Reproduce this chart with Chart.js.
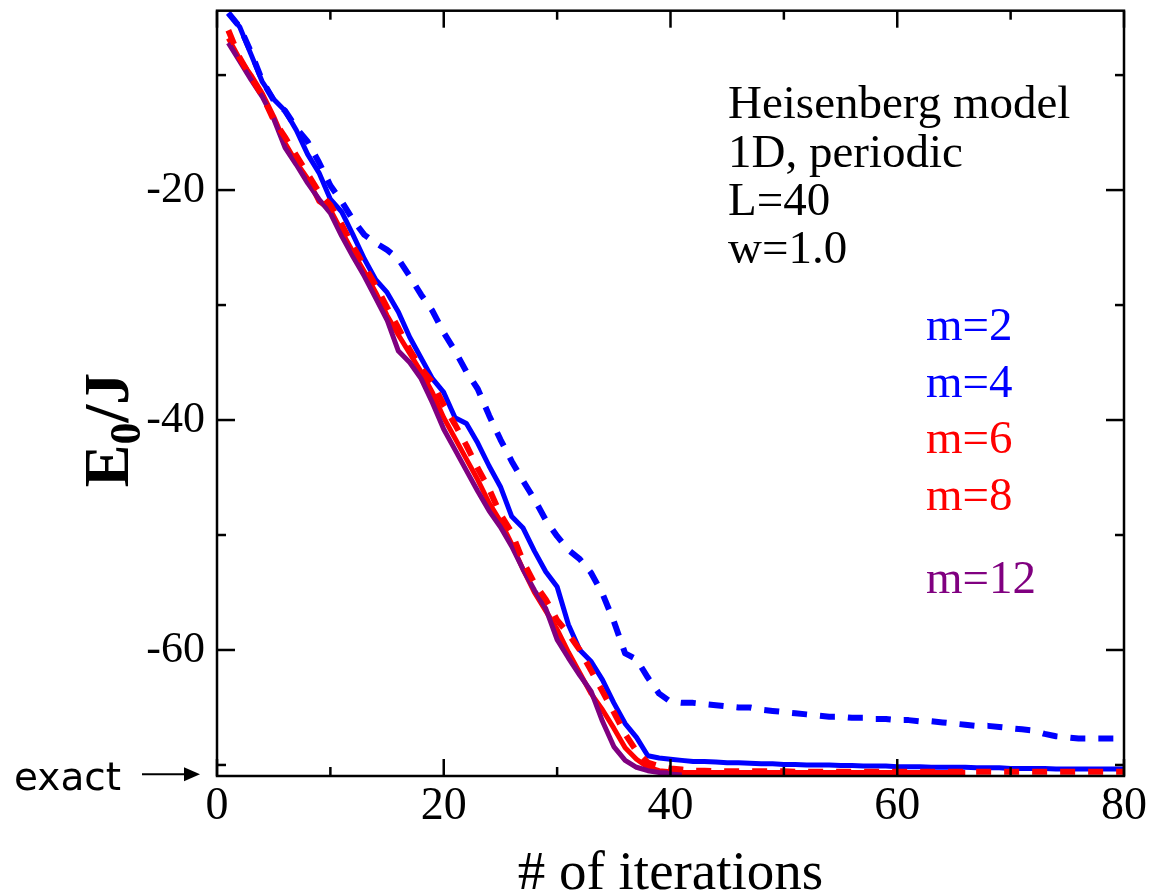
<!DOCTYPE html>
<html>
<head>
<meta charset="utf-8">
<script src="https://cdn.jsdelivr.net/npm/chart.js@4.4.0/dist/chart.umd.min.js"></script>
<style>
html,body{margin:0;padding:0;background:#fff;}
#c{display:block;}
</style>
</head>
<body>
<canvas id="c" width="1153" height="895"></canvas>
<script>
const iterations = [1,2,3,4,5,6,7,8,9,10,11,12,13,14,15,16,17,18,19,20,21,22,23,24,25,26,27,28,29,30,31,32,33,34,35,36,37,38,39,40,41,42,43,44,45,46,47,48,49,50,51,52,53,54,55,56,57,58,59,60,61,62,63,64,65,66,67,68,69,70,71,72,73,74,75,76,77,78,79,80];

const m2 = [-4.6,-5.8,-8.0,-10.5,-12.2,-13.1,-14.6,-15.8,-17.6,-19.6,
 -21.0,-22.6,-23.9,-24.6,-25.2,-26.0,-27.5,-29.1,-30.5,-32.4,
 -34.0,-35.8,-37.3,-39.6,-41.7,-43.6,-45.3,-46.9,-48.7,-50.1,
 -51.3,-52.1,-53.3,-55.1,-57.5,-60.3,-60.8,-62.4,-63.8,-64.5,
 -64.6,-64.6,-64.7,-64.8,-64.9,-65.0,-65.0,-65.2,-65.3,-65.4,
 -65.5,-65.6,-65.7,-65.8,-65.8,-65.9,-65.9,-66.0,-66.0,-66.1,
 -66.1,-66.2,-66.2,-66.3,-66.4,-66.5,-66.6,-66.6,-66.7,-66.8,
 -66.9,-67.0,-67.3,-67.5,-67.6,-67.7,-67.7,-67.7,-67.7,-67.7];

const m4 = [-4.6,-5.8,-8.2,-10.6,-12.1,-13.1,-14.8,-16.9,-18.5,-20.8,
 -21.9,-23.9,-26.0,-27.8,-28.9,-30.6,-32.8,-34.6,-36.4,-37.6,
 -39.8,-40.3,-42.0,-44.0,-45.8,-48.4,-49.4,-51.4,-53.2,-54.5,
 -57.8,-60.0,-61.0,-62.6,-64.6,-66.4,-67.6,-69.2,-69.4,-69.5,
 -69.6,-69.7,-69.7,-69.75,-69.8,-69.8,-69.85,-69.9,-69.9,-69.95,
 -69.95,-70.0,-70.0,-70.0,-70.05,-70.05,-70.1,-70.1,-70.1,-70.15,
 -70.15,-70.15,-70.2,-70.2,-70.2,-70.2,-70.25,-70.25,-70.25,-70.3,
 -70.3,-70.3,-70.3,-70.35,-70.35,-70.35,-70.35,-70.35,-70.35,-70.35];

const m6 = [-6.8,-8.6,-10.0,-11.6,-13.6,-15.9,-17.6,-19.0,-21.0,-21.7,
 -23.6,-25.4,-27.1,-28.9,-30.9,-32.6,-34.2,-35.8,-37.6,-39.8,
 -41.6,-43.4,-45.2,-47.2,-48.8,-50.8,-53.0,-55.0,-56.6,-58.2,
 -60.2,-62.0,-63.8,-65.2,-66.8,-68.5,-69.5,-70.2,-70.5,-70.6,
 -70.65,-70.65,-70.65,-70.65,-70.65,-70.65,-70.65,-70.65,-70.65,-70.65,
 -70.65,-70.65,-70.65,-70.65,-70.65,-70.65,-70.65,-70.65,-70.65,-70.65,
 -70.65,-70.65,-70.65,-70.65,-70.65,-70.65];

const m8 = [-6.1,-8.5,-10.2,-11.8,-13.9,-15.4,-17.0,-18.6,-20.2,-21.3,
 -23.0,-24.9,-26.6,-28.3,-30.2,-32.0,-33.9,-35.5,-36.7,-38.7,
 -40.4,-42.2,-44.2,-46.0,-48.2,-49.8,-52.3,-54.2,-55.6,-57.4,
 -58.6,-60.0,-61.8,-63.6,-65.4,-67.3,-68.8,-69.8,-70.1,-70.3,
 -70.4,-70.5,-70.5,-70.55,-70.55,-70.55,-70.55,-70.55,-70.55,-70.55,
 -70.6,-70.6,-70.6,-70.6,-70.6,-70.6,-70.6,-70.6,-70.6,-70.6,
 -70.6,-70.6,-70.6,-70.6,-70.6,-70.6,-70.6,-70.6,-70.6,-70.6,
 -70.6,-70.6,-70.6,-70.6,-70.6,-70.6,-70.6,-70.6,-70.6,-70.6];

const m12 = [-7.2,-8.8,-10.4,-11.9,-13.8,-16.3,-17.8,-19.4,-20.8,-22.0,
 -24.0,-25.8,-27.5,-29.4,-31.3,-34.0,-35.0,-36.4,-38.5,-40.8,
 -42.6,-44.4,-46.2,-47.9,-49.3,-51.0,-53.0,-54.8,-56.4,-59.1,
 -60.7,-62.2,-63.6,-66.2,-68.4,-69.6,-70.2,-70.5,-70.65,-70.7,
 -70.7];

const xTicks = [0, 20, 40, 60, 80];
const yTicks = [-20, -40, -60];
const xMinor = [10, 30, 50, 70];
const yMinor = [-10, -30, -50, -70];
const exactEnergy = -70.8;

const infoLines = ["Heisenberg model", "1D, periodic", "L=40", "w=1.0"];
const seriesLabels = ["m=2", "m=4", "m=6", "m=8", "m=12"];

const BLUE = "#0000ff", RED = "#ff0000", PURPLE = "#800080";
const SERIF = "'Liberation Serif', 'Times New Roman', serif";

function pts(arr){ return arr.map((v,i)=>({x: iterations[i], y: v})); }

const W = 1153, H = 895;
const PLOT_L = 217, PLOT_R = 1124, PLOT_T = 10.7, PLOT_B = 776;

const decor = {
  id: 'decor',
  afterDatasetsDraw(chart){
    const ctx = chart.ctx;
    const xs = chart.scales.x, ys = chart.scales.y;
    const a = chart.chartArea;
    ctx.save();
    ctx.strokeStyle = '#000';
    ctx.lineWidth = 2.5;
    ctx.strokeRect(a.left, a.top, a.right - a.left, a.bottom - a.top);
    const tick = (x1,y1,x2,y2)=>{ctx.beginPath();ctx.moveTo(x1,y1);ctx.lineTo(x2,y2);ctx.stroke();};
    xTicks.forEach(v=>{const p=xs.getPixelForValue(v); tick(p,a.bottom,p,a.bottom-17); tick(p,a.top,p,a.top+17);});
    xMinor.forEach(v=>{const p=xs.getPixelForValue(v); tick(p,a.bottom,p,a.bottom-9); tick(p,a.top,p,a.top+9);});
    yTicks.forEach(v=>{const p=ys.getPixelForValue(v); tick(a.left,p,a.left+18,p); tick(a.right,p,a.right-18,p);});
    yMinor.forEach(v=>{const p=ys.getPixelForValue(v); tick(a.left,p,a.left+9,p); tick(a.right,p,a.right-9,p);});

    ctx.fillStyle = '#000';
    ctx.font = '47px ' + SERIF;
    ctx.textAlign = 'left';
    ctx.textBaseline = 'alphabetic';
    const infoBase = [118, 167, 215, 263];
    infoLines.forEach((t,i)=>ctx.fillText(t, 728, infoBase[i]));

    const labCols = [BLUE, BLUE, RED, RED, PURPLE];
    const labBase = [340, 397, 453, 510, 593];
    seriesLabels.forEach((t,i)=>{ctx.fillStyle = labCols[i]; ctx.fillText(t, 926, labBase[i]);});

    ctx.fillStyle = '#000';
    ctx.font = '55px ' + SERIF;
    ctx.textAlign = 'center';
    ctx.fillText('# of iterations', (a.left + a.right)/2, 889);

    ctx.save();
    ctx.translate(128, 430);
    ctx.rotate(-Math.PI/2);
    ctx.textAlign = 'left';
    const big = 'bold 64px ' + SERIF, small = 'bold 44px ' + SERIF;
    ctx.font = big; const wE = ctx.measureText('E').width;
    ctx.font = small; const w0 = ctx.measureText('0').width;
    ctx.font = big; const wR = ctx.measureText('/J').width;
    const tot = wE + w0 + wR;
    let x0 = -tot/2;
    ctx.font = big; ctx.fillText('E', x0, 0);
    ctx.font = small; ctx.fillText('0', x0 + wE, 12);
    ctx.font = big; ctx.fillText('/J', x0 + wE + w0, 0);
    ctx.restore();

    const ye = ys.getPixelForValue(exactEnergy);
    ctx.font = '39px "DejaVu Sans", sans-serif';
    ctx.textAlign = 'left';
    ctx.fillStyle = '#000';
    ctx.fillText('exact', 14, ye + 16);
    ctx.lineWidth = 2;
    tick(142, ye, 186, ye);
    ctx.beginPath();
    ctx.moveTo(200, ye); ctx.lineTo(184, ye - 7); ctx.lineTo(184, ye + 7); ctx.closePath(); ctx.fill();
    ctx.restore();
  }
};

new Chart(document.getElementById('c'), {
  type: 'line',
  data: {
    datasets: [
      {label: 'm=2', data: pts(m2), borderColor: BLUE, borderWidth: 6, borderDash: [15, 13], order: 4},
      {label: 'm=4', data: pts(m4), borderColor: BLUE, borderWidth: 5, order: 3},
      {label: 'm=6', data: pts(m6), borderColor: RED, borderWidth: 5, order: 2},
      {label: 'm=8', data: pts(m8), borderColor: RED, borderWidth: 6, borderDash: [15, 13], order: 0},
      {label: 'm=12', data: pts(m12), borderColor: PURPLE, borderWidth: 5, order: 1}
    ]
  },
  options: {
    responsive: false,
    animation: false,
    events: [],
    elements: { point: { radius: 0 }, line: { tension: 0, fill: false, borderJoinStyle: 'round' } },
    layout: { padding: { left: 0, right: W - PLOT_R, top: PLOT_T, bottom: 0 } },
    plugins: { legend: { display: false }, tooltip: { enabled: false } },
    scales: {
      x: {
        type: 'linear', min: 0, max: 80,
        grid: { display: false, drawTicks: false },
        border: { display: false },
        afterBuildTicks: s => { s.ticks = xTicks.map(v => ({value: v})); },
        afterFit: s => { s.height = H - PLOT_B; s.paddingLeft = 0; s.paddingRight = 0; },
        ticks: { color: '#000', font: { family: SERIF, size: 46 }, padding: 3, maxRotation: 0, autoSkip: false }
      },
      y: {
        type: 'linear', min: -70.96, max: -4.4,
        grid: { display: false, drawTicks: false },
        border: { display: false },
        afterBuildTicks: s => { s.ticks = yTicks.map(v => ({value: v})); },
        afterFit: s => { s.width = PLOT_L; s.paddingTop = 0; s.paddingBottom = 0; },
        ticks: { color: '#000', font: { family: SERIF, size: 44 }, padding: 12, autoSkip: false }
      }
    }
  },
  plugins: [decor]
});
</script>
</body>
</html>
